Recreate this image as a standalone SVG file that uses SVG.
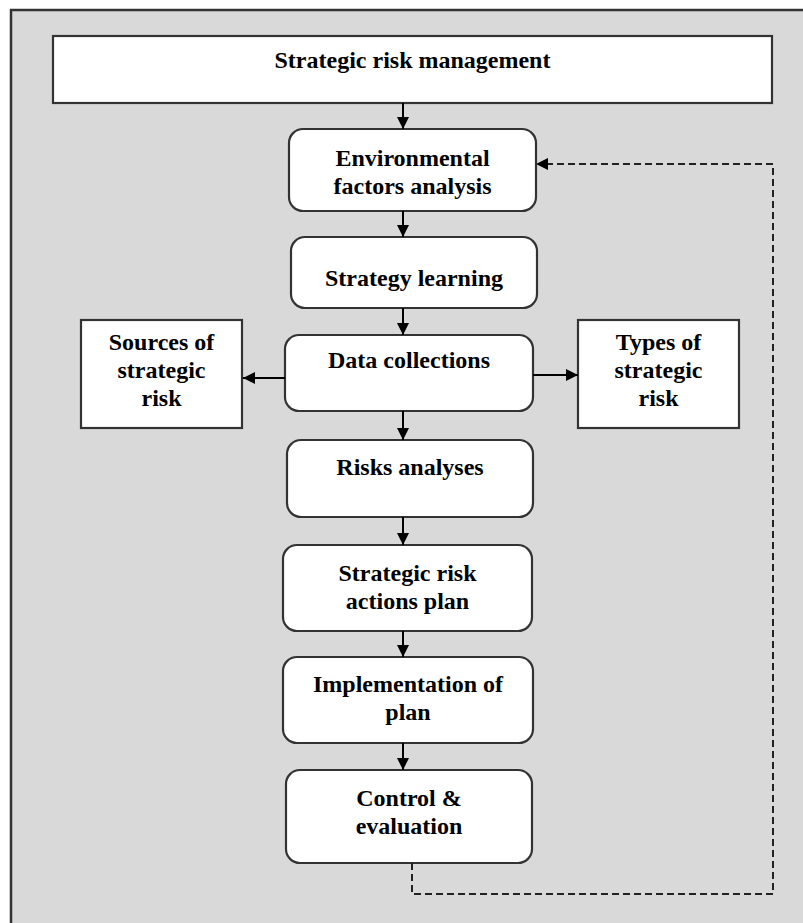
<svg xmlns="http://www.w3.org/2000/svg" width="803" height="923" viewBox="0 0 803 923">
  <style>
    .frame { fill: #d9d9d9; stroke: #333; stroke-width: 2.5; }
    .box { fill: #ffffff; stroke: #333; stroke-width: 2.2; }
    .t { font-family: "Liberation Serif", "Times New Roman", serif; font-weight: bold; font-size: 24px; fill: #000; text-anchor: middle; }
    .conn { fill: none; stroke: #000; stroke-width: 2; }
    .dash { fill: none; stroke: #222; stroke-width: 2; stroke-dasharray: 7 4; }
  </style>
  <defs>
    <marker id="arr" viewBox="0 0 12 12" refX="12" refY="6" markerWidth="12" markerHeight="12" markerUnits="userSpaceOnUse" orient="auto">
      <path d="M0,0 L12,6 L0,12 Z" fill="#000"/>
    </marker>
  </defs>
  <rect class="frame" x="11" y="10" width="800" height="925"/>

  <g id="strategic-risk-management">
    <rect class="box" x="53" y="36" width="719" height="67"/>
    <text class="t" x="412.5" y="68">Strategic risk management</text>
  </g>
  <g id="environmental-factors-analysis">
    <rect class="box" x="289" y="129" width="247" height="82" rx="14"/>
    <text class="t" x="412.5" y="166">Environmental</text>
    <text class="t" x="412.5" y="194">factors analysis</text>
  </g>
  <g id="strategy-learning">
    <rect class="box" x="291" y="237" width="246" height="71" rx="14"/>
    <text class="t" x="414" y="286">Strategy learning</text>
  </g>
  <g id="data-collections">
    <rect class="box" x="285" y="335" width="248" height="76" rx="14"/>
    <text class="t" x="409" y="368">Data collections</text>
  </g>
  <g id="sources-of-strategic-risk">
    <rect class="box" x="81" y="320" width="161" height="108"/>
    <text class="t" x="161.5" y="350">Sources of</text>
    <text class="t" x="161.5" y="378">strategic</text>
    <text class="t" x="161.5" y="406">risk</text>
  </g>
  <g id="types-of-strategic-risk">
    <rect class="box" x="578" y="320" width="161" height="108"/>
    <text class="t" x="658.5" y="350">Types of</text>
    <text class="t" x="658.5" y="378">strategic</text>
    <text class="t" x="658.5" y="406">risk</text>
  </g>
  <g id="risks-analyses">
    <rect class="box" x="287" y="440" width="246" height="77" rx="14"/>
    <text class="t" x="410" y="475">Risks analyses</text>
  </g>
  <g id="strategic-risk-actions-plan">
    <rect class="box" x="283" y="545" width="249" height="86" rx="14"/>
    <text class="t" x="407.5" y="581">Strategic risk</text>
    <text class="t" x="407.5" y="609">actions plan</text>
  </g>
  <g id="implementation-of-plan">
    <rect class="box" x="283" y="657" width="250" height="86" rx="14"/>
    <text class="t" x="408" y="692">Implementation of</text>
    <text class="t" x="408" y="720">plan</text>
  </g>
  <g id="control-evaluation">
    <rect class="box" x="286" y="770" width="246" height="93" rx="14"/>
    <text class="t" x="409" y="806">Control &amp;</text>
    <text class="t" x="409" y="834">evaluation</text>
  </g>

  <g id="connectors">
    <line class="conn" x1="403" y1="103" x2="403" y2="129" marker-end="url(#arr)"/>
    <line class="conn" x1="403" y1="211" x2="403" y2="237" marker-end="url(#arr)"/>
    <line class="conn" x1="403" y1="308" x2="403" y2="335" marker-end="url(#arr)"/>
    <line class="conn" x1="403" y1="411" x2="403" y2="440" marker-end="url(#arr)"/>
    <line class="conn" x1="403" y1="517" x2="403" y2="545" marker-end="url(#arr)"/>
    <line class="conn" x1="403" y1="631" x2="403" y2="657" marker-end="url(#arr)"/>
    <line class="conn" x1="403" y1="743" x2="403" y2="770" marker-end="url(#arr)"/>
    <line class="conn" x1="285" y1="378" x2="243" y2="378" marker-end="url(#arr)"/>
    <line class="conn" x1="533" y1="375" x2="578" y2="375" marker-end="url(#arr)"/>
    <path class="dash" d="M412,863 V894 H773 V164 H548"/>
    <path d="M548,158 L536,164 L548,170 Z" fill="#000"/>
  </g>
</svg>
